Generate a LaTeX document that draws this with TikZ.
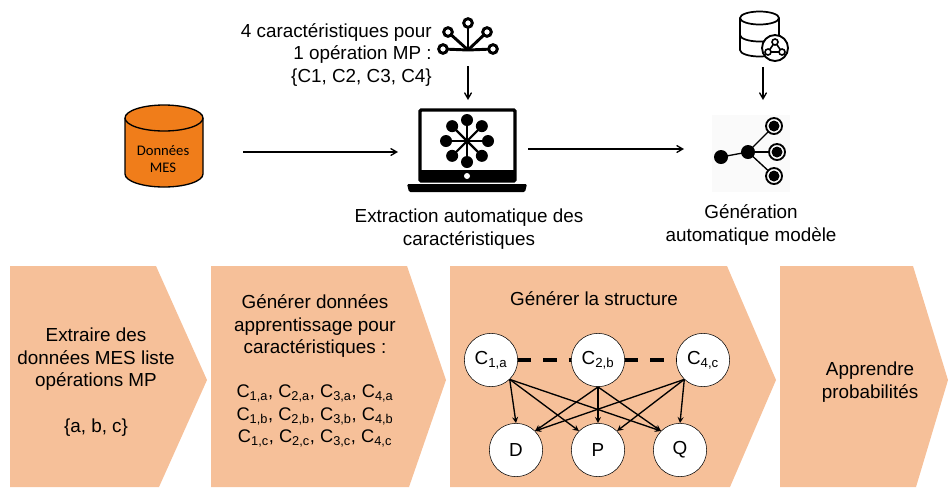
\documentclass[tikz,border=0pt]{standalone}
\usepackage{fontspec}
\setmainfont{Liberation Sans}
\newfontfamily\calibri{Carlito}
\usetikzlibrary{arrows,shapes.geometric}
\definecolor{chevron}{RGB}{246,192,153}
\definecolor{barrel}{RGB}{240,125,26}
\newcommand{\cval}[1]{C\textsubscript{#1}}
\begin{document}
\begin{tikzpicture}[x=0.75pt,y=-0.75pt,auto]
\tikzstyle{chev} = [fill=chevron, draw=none];
\tikzstyle{txt} = [align=center, font=\fontsize{14.15}{17}\selectfont, inner sep=0pt];
\tikzstyle{var} = [circle, draw=black, fill=white, minimum size=40pt, inner sep=0pt, font=\fontsize{14.15}{16}\selectfont];
\tikzstyle{line} = [draw, line width=1pt, ->, >=angle 60];
\tikzstyle{link} = [draw, line width=1pt, ->, >=stealth];
\tikzstyle{dashlink} = [line width=2.5pt, dash pattern=on 10pt off 9pt];
\tikzstyle{ring} = [circle, draw=black, fill=white, line width=1.4pt, inner sep=0pt];
\useasboundingbox (0,0) rectangle (948,487);
% bottom row
\fill[chev] (10,266) -- (156,266) -- (207,380) -- (159,487) -- (10,487) -- cycle;
\fill[chev] (211,266) -- (407,266) -- (446,380) -- (409,487) -- (211,487) -- cycle;
\fill[chev] (450,266) -- (727,266) -- (776,380) -- (730,487) -- (450,487) -- cycle;
\fill[chev] (780,266) -- (913,266) -- (948,380) -- (916,487) -- (780,487) -- cycle;
\node [txt] (extract) at (96,382) {Extraire des\\données MES liste\\opérations MP\\[17pt]\{a, b, c\}};
\node [txt] (learn) at (315,326) {Générer données\\apprentissage pour\\caractéristiques :};
\node [txt, font=\fontsize{13.7}{16.7}\selectfont] (values) at (315,416) {\cval{1,a}, \cval{2,a}, \cval{3,a}, \cval{4,a}\\\cval{1,b}, \cval{2,b}, \cval{3,b}, \cval{4,b}\\\cval{1,c}, \cval{2,c}, \cval{3,c}, \cval{4,c}};
\node [txt] (struct) at (594,299) {Générer la structure};
\node [txt] (proba) at (870,382) {Apprendre\\probabilités};
% graph
\node [var] (c1) at (491,360) {\cval{1,a}};
\node [var] (c2) at (598,360) {\cval{2,b}};
\node [var] (c4) at (703,360) {\cval{4,c}};
\node [var] (d) at (516,450) {D};
\node [var] (p) at (598,450) {P};
\node [var] (q) at (680,450) {Q};
\draw [dashlink] (c1) -- (c2);
\draw [dashlink] (c2) -- (c4);
\foreach \from/\to in {c1.-46/d.90,c1.-46/p.135,c1.-46/q.135,c2.-90/d.45,c2.-90/p.90,c2.-90/q.135,c4.-134/d.45,c4.-134/p.45,c4.-134/q.90}
  \path [link] (\from) -- (\to);
% top row
\draw [line width=1pt, fill=barrel] (125,118) -- (125,174) arc [start angle=180, end angle=0, x radius=39, y radius=13] -- (203,118) arc [start angle=0, end angle=-180, x radius=39, y radius=13] -- cycle;
\draw [line width=1pt] (125,118) arc [start angle=180, end angle=0, x radius=39, y radius=13];
\node [align=center, inner sep=0pt, font=\calibri\fontsize{11}{13}\selectfont] (mes) at (163,159) {Données\\MES};
\coordinate (mesout) at (243,152);
\coordinate (pcin) at (398,152);
\coordinate (pcout) at (528,149);
\coordinate (genin) at (684,149);
\coordinate (fanout) at (468,66);
\coordinate (pctop) at (468,100);
\coordinate (baseout) at (763,67);
\coordinate (gentop) at (763,100);
\node [txt, align=right, anchor=east] (carac) at (432,55) {4 caractéristiques pour\\1 opération MP :\\\{C1, C2, C3, C4\}};
\node [txt] (extraction) at (469,229) {Extraction automatique des\\caractéristiques};
\node [txt] (generation) at (751,225) {Génération\\automatique modèle};
\path [line] (mesout) -- (pcin);
\path [line] (pcout) -- (genin);
\path [line] (fanout) -- (pctop);
\path [line] (baseout) -- (gentop);
% fan icon
\coordinate (fanroot) at (468,50);
\foreach \x/\y in {443/49,448/32,468/23,487/32,493/49}{
  \draw [line width=2.2pt] (fanroot) -- (\x,\y);
  \node [ring, line width=2.2pt, minimum size=6.5pt] at (\x,\y) {};
}
% laptop icon
\draw [black, line width=2.5pt, fill=white, rounded corners=1pt] (420,110) rectangle (515,181);
\fill [black] (420,170) rectangle (515,181);
\fill [white] (467,176) circle (3);
\fill [black, rounded corners=1pt] (407,184) -- (527,184) -- (525,192) -- (409,192) -- cycle;
\coordinate (hub) at (467,141);
\foreach \ang in {0,45,...,315}{
  \draw [line width=1.6pt] (hub) -- +(\ang:21);
  \fill (hub) ++(\ang:21) circle (6);
}
% base icon
\draw [line width=1.3pt, fill=white] (740,18) -- (740,50) arc [start angle=180, end angle=0, x radius=19.5, y radius=6.5] -- (779,18) arc [start angle=0, end angle=-180, x radius=19.5, y radius=6.5] -- cycle;
\draw [line width=1.3pt] (740,18) arc [start angle=180, end angle=0, x radius=19.5, y radius=6.5];
\draw [line width=1.3pt] (740,35) arc [start angle=180, end angle=0, x radius=19.5, y radius=6.5];
\node [ring, minimum size=19.5pt] (basering) at (775,48) {};
\draw [line width=1.2pt] (775,42) -- (768,52) -- (782,52) -- cycle;
\foreach \x/\y in {775/42,768/52,782/52}
  \draw [line width=1.2pt, fill=white] (\x,\y) circle (3);
% tree icon
\fill [black!2] (712,115) rectangle (790,192);
\draw [line width=1pt] (721,157) -- (748,152);
\foreach \x/\y in {774/126,777/152,774/176}{
  \draw [line width=1pt] (748,152) -- (\x,\y);
  \node [ring, minimum size=12pt] at (\x,\y) {};
  \fill (\x,\y) circle (5.5);
}
\fill (721,157) circle (7);
\fill (748,152) circle (7);
\end{tikzpicture}
\end{document}
